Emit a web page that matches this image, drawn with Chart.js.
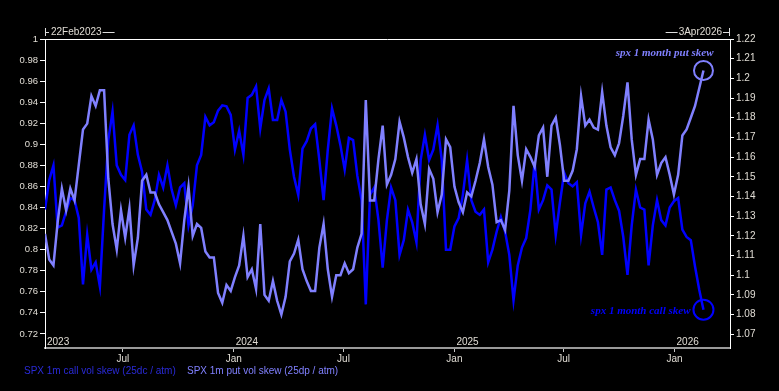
<!DOCTYPE html>
<html>
<head>
<meta charset="utf-8">
<script src="https://cdn.jsdelivr.net/npm/chart.js"></script>
<style>
  html, body { margin: 0; padding: 0; background: #000; }
  canvas { display: block; }
</style>
</head>
<body>
<canvas id="skewChart" width="779" height="391"></canvas>
<script>
// weekly readings, first point on 22Feb2023
const startDate = '2023-02-22';
const endDate = '2026-04-03';

// SPX 1m call vol skew (25dc / atm) - left axis
const callSkew = [
  0.838, 0.866, 0.880, 0.821, 0.823, 0.836, 0.849, 0.847, 0.830, 0.767,
  0.814, 0.781, 0.788, 0.765, 0.838, 0.904, 0.931, 0.880, 0.871, 0.866,
  0.909, 0.918, 0.890, 0.874, 0.838, 0.833, 0.847, 0.871, 0.859, 0.880,
  0.857, 0.842, 0.859, 0.863, 0.823, 0.842, 0.880, 0.890, 0.926, 0.918,
  0.921, 0.932, 0.937, 0.936, 0.928, 0.895, 0.913, 0.890, 0.944, 0.947,
  0.955, 0.915, 0.942, 0.953, 0.923, 0.923, 0.942, 0.931, 0.895, 0.869,
  0.852, 0.896, 0.903, 0.915, 0.919, 0.885, 0.847, 0.895, 0.934, 0.918,
  0.899, 0.876, 0.906, 0.904, 0.870, 0.847, 0.748, 0.852, 0.859, 0.828,
  0.783, 0.828, 0.859, 0.847, 0.795, 0.809, 0.838, 0.826, 0.807, 0.885,
  0.909, 0.885, 0.895, 0.918, 0.885, 0.800, 0.800, 0.822, 0.830, 0.852,
  0.885, 0.847, 0.836, 0.833, 0.838, 0.788, 0.800, 0.817, 0.831, 0.817,
  0.795, 0.752, 0.785, 0.802, 0.811, 0.838, 0.883, 0.838, 0.847, 0.861,
  0.857, 0.814, 0.845, 0.873, 0.863, 0.860, 0.864, 0.814, 0.844, 0.855,
  0.840, 0.826, 0.795, 0.857, 0.859, 0.847, 0.837, 0.812, 0.776, 0.823,
  0.857, 0.840, 0.838, 0.785, 0.823, 0.847, 0.828, 0.823, 0.840, 0.846,
  0.849, 0.819, 0.812, 0.809, 0.784, 0.762, 0.743
];

// SPX 1m put vol skew (25dp / atm) - right axis
const putSkew = [
  1.121, 1.108, 1.105, 1.127, 1.144, 1.133, 1.144, 1.138, 1.156, 1.174,
  1.177, 1.191, 1.186, 1.194, 1.194, 1.149, 1.126, 1.113, 1.133, 1.119,
  1.134, 1.105, 1.119, 1.148, 1.151, 1.142, 1.142, 1.136, 1.132, 1.128,
  1.122, 1.116, 1.106, 1.128, 1.145, 1.120, 1.126, 1.124, 1.112, 1.109,
  1.109, 1.091, 1.086, 1.095, 1.092, 1.099, 1.105, 1.120, 1.099, 1.103,
  1.093, 1.126, 1.090, 1.087, 1.097, 1.087, 1.080, 1.089, 1.107, 1.111,
  1.118, 1.103, 1.097, 1.092, 1.092, 1.114, 1.126, 1.103, 1.089, 1.100,
  1.100, 1.106, 1.101, 1.103, 1.114, 1.121, 1.189, 1.138, 1.138, 1.159,
  1.176, 1.146, 1.151, 1.159, 1.178, 1.170, 1.160, 1.152, 1.159, 1.136,
  1.126, 1.154, 1.149, 1.132, 1.141, 1.169, 1.165, 1.145, 1.137, 1.132,
  1.142, 1.140, 1.148, 1.157, 1.169, 1.155, 1.146, 1.127, 1.128, 1.123,
  1.143, 1.186, 1.161, 1.148, 1.164, 1.160, 1.155, 1.171, 1.175, 1.150,
  1.176, 1.180, 1.166, 1.148, 1.148, 1.153, 1.164, 1.191, 1.176, 1.179,
  1.175, 1.174, 1.193, 1.176, 1.165, 1.161, 1.167, 1.181, 1.198, 1.169,
  1.151, 1.159, 1.159, 1.179, 1.169, 1.151, 1.157, 1.160, 1.151, 1.141,
  1.151, 1.171, 1.174, 1.180, 1.186, 1.195, 1.204
];

const leftTicks = [0.72, 0.74, 0.76, 0.78, 0.8, 0.82, 0.84, 0.86, 0.88, 0.9, 0.92, 0.94, 0.96, 0.98, 1];
const rightTicks = [1.07, 1.08, 1.09, 1.1, 1.11, 1.12, 1.13, 1.14, 1.15, 1.16, 1.17, 1.18, 1.19, 1.2, 1.21, 1.22];
const monthDates = ['2023-07-01', '2024-01-01', '2024-07-01', '2025-01-01', '2025-07-01', '2026-01-01'];
const monthLabels = ['Jul', 'Jan', 'Jul', 'Jan', 'Jul', 'Jan'];
const yearDates = ['2023-02-22', '2024-01-01', '2025-01-01', '2026-01-01'];
const yearLabels = ['2023', '2024', '2025', '2026'];

const callColor = '#0000ff';
const putColor = '#8080ff';
const textColor = '#e0dcd4';
const fontFam = '"Liberation Sans", Arial, sans-serif';

const dayOf = d => (Date.parse(d) - Date.parse(startDate)) / 86400000;
const totalDays = dayOf(endDate);
const fmt = v => String(+v.toFixed(2));

const callPts = callSkew.map((v, i) => ({ x: i * 7, y: v }));
const putPts = putSkew.map((v, i) => ({ x: i * 7, y: v }));

const decor = {
  id: 'decor',
  afterDatasetsDraw(chart) {
    const { ctx, chartArea: a, scales } = chart;
    ctx.save();
    // top frame line
    ctx.strokeStyle = '#ffffff';
    ctx.lineWidth = 1;
    ctx.beginPath();
    ctx.moveTo(a.left, a.top + 0.5);
    ctx.lineTo(a.right, a.top + 0.5);
    ctx.stroke();

    // start / end date markers above the frame
    const ty = a.top - 7;
    ctx.font = '10px ' + fontFam;
    ctx.fillStyle = textColor;
    ctx.textBaseline = 'middle';
    ctx.strokeStyle = '#dcdcdc';
    ctx.beginPath();
    ctx.moveTo(a.left + 0.5, ty - 4); ctx.lineTo(a.left + 0.5, ty + 4);
    ctx.moveTo(a.left, ty + 0.5); ctx.lineTo(a.left + 4, ty + 0.5);
    const sTxt = '22Feb2023';
    ctx.textAlign = 'left';
    ctx.fillText(sTxt, a.left + 6, ty);
    const sw = ctx.measureText(sTxt).width;
    ctx.moveTo(a.left + 7 + sw, ty + 0.5); ctx.lineTo(a.left + 19 + sw, ty + 0.5);
    const eTxt = '3Apr2026';
    ctx.textAlign = 'right';
    ctx.fillText(eTxt, a.right - 8, ty);
    const ew = ctx.measureText(eTxt).width;
    ctx.moveTo(a.right - 9 - ew, ty + 0.5); ctx.lineTo(a.right - 21 - ew, ty + 0.5);
    ctx.moveTo(a.right - 7, ty + 0.5); ctx.lineTo(a.right, ty + 0.5);
    ctx.moveTo(a.right - 0.5, ty - 4); ctx.lineTo(a.right - 0.5, ty + 4);
    ctx.stroke();

    // year labels inside the plot
    ctx.textAlign = 'left';
    ctx.textBaseline = 'alphabetic';
    yearDates.forEach((d, i) => {
      const px = scales.x.getPixelForValue(dayOf(d));
      ctx.fillText(yearLabels[i], px + 2, a.bottom - 3);
    });

    // end-point annotations
    const lastCall = callPts[callPts.length - 1];
    const lastPut = putPts[putPts.length - 1];
    const cx1 = scales.x.getPixelForValue(lastPut.x);
    const cy1 = scales.y1.getPixelForValue(lastPut.y);
    const cx2 = scales.x.getPixelForValue(lastCall.x);
    const cy2 = scales.y.getPixelForValue(lastCall.y);
    ctx.lineWidth = 2;
    ctx.strokeStyle = putColor;
    ctx.beginPath(); ctx.arc(cx1, cy1, 9.5, 0, Math.PI * 2); ctx.stroke();
    ctx.strokeStyle = callColor;
    ctx.beginPath(); ctx.arc(cx2, cy2, 10, 0, Math.PI * 2); ctx.stroke();

    ctx.font = 'italic bold 11px "Liberation Serif", "Times New Roman", serif';
    ctx.textBaseline = 'middle';
    ctx.textAlign = 'right';
    ctx.fillStyle = putColor;
    ctx.fillText('spx 1 month put skew', cx1 + 10, cy1 - 17);
    ctx.fillStyle = callColor;
    ctx.fillText('spx 1 month call skew', cx2 - 13, cy2 + 1);

    // legend
    ctx.font = '10px ' + fontFam;
    ctx.textAlign = 'left';
    ctx.fillStyle = '#2a2ad8';
    ctx.fillText('SPX 1m call vol skew (25dc / atm)', 24, 371);
    ctx.fillStyle = putColor;
    ctx.fillText('SPX 1m put vol skew (25dp / atm)', 187, 371);
    ctx.restore();
  }
};

new Chart(document.getElementById('skewChart'), {
  type: 'line',
  data: {
    datasets: [
      {
        label: 'SPX 1m call vol skew (25dc / atm)',
        data: callPts,
        yAxisID: 'y',
        borderColor: callColor,
        borderWidth: 2.5,
        pointRadius: 0,
        tension: 0,
        order: 2
      },
      {
        label: 'SPX 1m put vol skew (25dp / atm)',
        data: putPts,
        yAxisID: 'y1',
        borderColor: putColor,
        borderWidth: 2.5,
        pointRadius: 0,
        tension: 0,
        order: 1
      }
    ]
  },
  options: {
    responsive: false,
    animation: false,
    layout: { padding: { top: 39, left: 0, right: 0, bottom: 0 } },
    plugins: { legend: { display: false }, tooltip: { enabled: false } },
    scales: {
      x: {
        type: 'linear',
        min: 0,
        max: totalDays,
        afterBuildTicks: s => { s.ticks = monthDates.map(d => ({ value: dayOf(d) })); },
        afterFit: s => { s.height = 43; },
        ticks: {
          callback: (v, i) => monthLabels[i],
          color: textColor,
          font: { family: fontFam, size: 10 },
          maxRotation: 0,
          autoSkip: false,
          padding: 1
        },
        grid: { drawOnChartArea: false, drawTicks: true, tickLength: 4, color: '#c8c8c8' },
        border: { display: true, color: '#9a9a9a', width: 2 }
      },
      y: {
        position: 'left',
        min: 0.7066,
        max: 1,
        afterBuildTicks: s => { s.ticks = leftTicks.map(v => ({ value: v })); },
        afterFit: s => { s.width = 45; },
        ticks: {
          callback: v => fmt(v),
          color: textColor,
          font: { family: fontFam, size: 9.5 },
          padding: 2
        },
        grid: { drawOnChartArea: false, drawTicks: true, tickLength: 5, color: '#ffffff' },
        border: { display: true, color: '#ffffff', width: 1 }
      },
      y1: {
        position: 'right',
        min: 1.063,
        max: 1.22,
        afterBuildTicks: s => { s.ticks = rightTicks.map(v => ({ value: v })); },
        afterFit: s => { s.width = 49; },
        ticks: {
          callback: v => fmt(v),
          color: textColor,
          font: { family: fontFam, size: 10 },
          padding: 2
        },
        grid: { drawOnChartArea: false, drawTicks: true, tickLength: 4, color: '#ffffff' },
        border: { display: true, color: '#ffffff', width: 1 }
      }
    }
  },
  plugins: [decor]
});
</script>
</body>
</html>
